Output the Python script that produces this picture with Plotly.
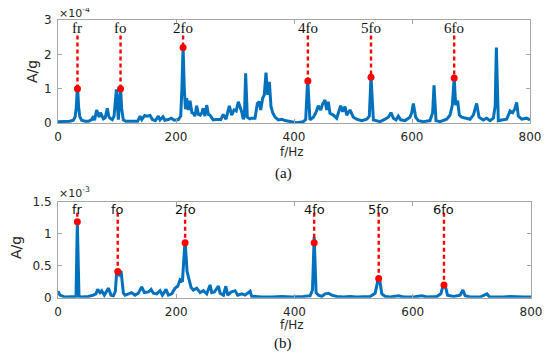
import plotly.graph_objects as go

# ---------------- data ----------------
# Panel (a): amplitude in units of 1e-4
freq_a = [0, 10, 20, 26, 29, 31, 33, 35, 37, 40, 46, 52, 57, 60, 62, 65.5, 68, 70, 72, 74, 77, 80, 83.6, 86, 88,
          92, 95, 99, 101, 102.3, 104, 106, 108, 110.7, 115, 125, 135, 139, 142, 147, 151, 156, 160, 165, 170, 173,
          178, 181, 187, 192, 197, 204, 208, 210, 212, 214, 216, 218, 221, 223.7, 227, 229.4, 232, 235, 238, 241,
          244, 246, 249, 252, 255, 257.6, 263, 268, 271.8, 276, 280, 284.7, 290.4, 294.4, 298.3, 302, 305.6, 309,
          311.3, 314.1, 316, 318, 320.9, 325, 328, 333.9, 337.9, 341.2, 343.5, 346.9, 349.7, 352.5, 355.4, 358.2,
          361, 363.9, 367.8, 373.4, 379.1, 384.7, 393.2, 404.5, 415.8, 419.8, 423.2, 427, 432.8, 437, 441.2, 445.2,
          448.6, 452.5, 455.4, 458.2, 461, 466.7, 472.3, 479.1, 482.5, 486.4, 489.3, 494.9, 500.6, 506.2, 514.7,
          523.2, 527.7, 530.5, 534.5, 540, 545.8, 554.2, 559.9, 564.4, 568.4, 572.9, 576.8, 580.8, 588.1, 596.6,
          599.5, 602.3, 605, 606.2, 610.7, 619.2, 630.5, 635, 637.3, 639, 640.7, 647.5, 658.8, 664.4, 668.4, 671.5,
          674, 677.4, 680.2, 684.2, 689.8, 698.3, 704, 709.6, 713.6, 720.9, 726.6, 732.2, 737.9, 741, 743, 745,
          746.3, 752, 760.5, 766.1, 770.6, 774, 777.4, 780.2, 785.9, 794.4, 800]
amp_a = [0.04, 0.04, 0.05, 0.08, 0.18, 0.45, 1.1, 0.45, 0.18, 0.08, 0.05, 0.05, 0.1, 0.2, 0.08, 0.38, 0.25, 0.17,
         0.3, 0.23, 0.12, 0.15, 0.43, 0.2, 0.14, 0.1, 0.2, 0.98, 0.5, 0.1, 0.6, 1.04, 0.4, 0.09, 0.05, 0.04, 0.05,
         0.2, 0.1, 0.22, 0.2, 0.22, 0.1, 0.07, 0.2, 0.09, 0.18, 0.08, 0.1, 0.14, 0.08, 0.1, 0.2, 1.0, 2.25, 1.0,
         0.4, 0.72, 0.38, 0.65, 0.3, 0.28, 0.2, 0.5, 0.25, 0.23, 0.3, 0.43, 0.2, 0.52, 0.25, 0.23, 0.09, 0.1, 0.11,
         0.1, 0.25, 0.11, 0.5, 0.23, 0.38, 0.35, 0.62, 0.45, 0.33, 0.11, 0.2, 1.45, 0.17, 0.12, 0.14, 0.14, 0.57,
         0.62, 0.38, 0.72, 0.82, 1.47, 0.82, 1.2, 0.48, 0.3, 0.17, 0.09, 0.11, 0.07, 0.04, 0.01, 0.04, 0.1, 1.28,
         0.09, 0.17, 0.3, 0.5, 0.38, 0.55, 0.67, 0.38, 0.62, 0.28, 0.23, 0.14, 0.5, 0.33, 0.48, 0.23, 0.38, 0.17,
         0.11, 0.07, 0.11, 0.2, 1.36, 0.09, 0.07, 0.04, 0.11, 0.17, 0.3, 0.14, 0.09, 0.2, 0.09, 0.07, 0.17, 0.3,
         0.57, 0.25, 0.17, 0.07, 0.04, 0.07, 0.3, 1.1, 0.3, 0.07, 0.04, 0.11, 0.23, 0.52, 1.32, 0.52, 0.65, 0.23,
         0.17, 0.14, 0.11, 0.23, 0.57, 0.17, 0.09, 0.14, 0.07, 0.14, 0.5, 2.2, 0.4, 0.07, 0.09, 0.11, 0.35, 0.3,
         0.4, 0.6, 0.2, 0.11, 0.14, 0.09]

# Panel (b): amplitude in units of 1e-3
freq_b = [0, 3.4, 11.8, 28.8, 30.5, 32.7, 35.5, 40, 51.3, 59.8, 64, 67.1, 71, 73.9, 78.4, 85.2, 89.7, 93.6, 97,
          99.3, 103.2, 106.6, 110.6, 113.4, 119, 124.6, 130.3, 135.9, 141.6, 146.1, 152.9, 157.4, 161.3, 167,
          172.6, 176.6, 182.8, 186.7, 192.4, 198, 202.5, 206.5, 210.4, 214.9, 218.3, 221.7, 225.1, 229, 234.6,
          240.3, 245.9, 251.6, 257.2, 260, 264.6, 271.3, 274.2, 279.8, 283.8, 287.1, 292.8, 299.5, 304, 310.8,
          316.4, 324.9, 327.7, 333.3, 344.6, 361.5, 378.5, 395.4, 403.9, 415.1, 426.4, 430.4, 433.3, 436.5, 440.5,
          446.1, 451.8, 457.4, 463, 471.5, 482.8, 494.1, 505.4, 516.6, 527.9, 536.4, 540.3, 542.4, 544.9, 547.7,
          553.3, 561.8, 575.9, 584.4, 601.3, 615.4, 623.9, 640.8, 647.5, 650.9, 652.8, 655.4, 658.8, 669, 680.2,
          684.8, 688.7, 697.2, 714.1, 725.4, 729.9, 753.6, 764.9, 787.4, 800]
amp_b = [0.1, 0.04, 0.01, 0.01, 0.02, 1.19, 0.02, 0.01, 0.02, 0.04, 0.06, 0.13, 0.08, 0.11, 0.04, 0.15, 0.04, 0.03,
         0.1, 0.41, 0.36, 0.42, 0.07, 0.04, 0.06, 0.08, 0.04, 0.07, 0.17, 0.08, 0.09, 0.13, 0.07, 0.06, 0.11, 0.04,
         0.13, 0.04, 0.06, 0.15, 0.18, 0.28, 0.25, 0.9, 0.41, 0.28, 0.16, 0.12, 0.15, 0.08, 0.11, 0.06, 0.2, 0.08,
         0.09, 0.18, 0.07, 0.04, 0.18, 0.04, 0.09, 0.11, 0.04, 0.06, 0.04, 0.1, 0.02, 0.02, 0.01, 0.01, 0.02, 0.01,
         0.01, 0.02, 0.03, 0.12, 0.95, 0.08, 0.04, 0.02, 0.06, 0.07, 0.04, 0.02, 0.01, 0.02, 0.01, 0.02, 0.02, 0.07,
         0.23, 0.33, 0.23, 0.06, 0.02, 0.01, 0.03, 0.01, 0.01, 0.03, 0.01, 0.02, 0.06, 0.18, 0.24, 0.17, 0.04, 0.02,
         0.04, 0.12, 0.03, 0.01, 0.01, 0.06, 0.01, 0.01, 0.02, 0.01, 0.01]

harm_labels = ["fr", "fo", "2fo", "4fo", "5fo", "6fo"]
harm_f_a = [33, 106, 212, 423.5, 530.5, 671.5]
harm_amp_a = [1.0, 1.0, 2.2, 1.22, 1.33, 1.31]
harm_f_b = [32.7, 101, 215, 433.3, 542.4, 652.8]
harm_amp_b = [1.19, 0.41, 0.86, 0.86, 0.30, 0.20]

x_ticks = [0, 200, 400, 600, 800]
y_ticks_a = [0, 1, 2, 3]
y_ticks_b = [0, 0.5, 1, 1.5]
y_ticktext_b = ["0", "0.5", "1", "1.5"]

# ---------------- figure ----------------
W, H = 550, 356
OFF = 8  # page body margin of the exported html page


def PX(px):
    return (px - OFF) / W


def PY(py):
    return 1 - (py - OFF) / H


BLUE = "#0072BD"
RED = "#FF0000"
TICKFONT = dict(family="DejaVu Sans", size=12, color="#262626")

fig = go.Figure()


def add_panel(freq, amp, hf, ha, top, xa, ya):
    fig.add_trace(go.Scatter(x=freq, y=amp, mode="lines", xaxis=xa, yaxis=ya,
                             line=dict(color=BLUE, width=3), hoverinfo="skip", showlegend=False))
    dx, dy = [], []
    for f, a in zip(hf, ha):
        dx += [f, f, None]
        dy += [top, a, None]
    fig.add_trace(go.Scatter(x=dx, y=dy, mode="lines", xaxis=xa, yaxis=ya,
                             line=dict(color=RED, width=2.4, dash="4px,3px"), showlegend=False))
    fig.add_trace(go.Scatter(x=hf, y=ha, mode="markers", xaxis=xa, yaxis=ya,
                             marker=dict(color=RED, size=7), showlegend=False))


add_panel(freq_a, amp_a, harm_f_a, harm_amp_a, 2.55, "x", "y")
add_panel(freq_b, amp_b, harm_f_b, harm_amp_b, 1.33, "x2", "y2")

axis_common = dict(showgrid=False, zeroline=False, showline=True, linecolor="#a6a6a6", linewidth=1,
                   mirror="ticks", ticks="inside", ticklen=4, tickcolor="#a6a6a6", tickfont=TICKFONT,
                   ticklabelstandoff=3, automargin=False)

fig.update_layout(
    width=W, height=H, margin=dict(l=0, r=0, t=0, b=0, autoexpand=False),
    paper_bgcolor="white", plot_bgcolor="white",
    xaxis=dict(domain=[PX(58), PX(530)], range=[0, 800], tickvals=x_ticks, anchor="y", **axis_common),
    yaxis=dict(domain=[PY(123), PY(20)], range=[0, 3], tickvals=y_ticks_a, anchor="x", **axis_common),
    xaxis2=dict(domain=[PX(58), PX(531)], range=[0, 800], tickvals=x_ticks, anchor="y2", **axis_common),
    yaxis2=dict(domain=[PY(297.7), PY(202)], range=[0, 1.5], tickvals=y_ticks_b,
                ticktext=y_ticktext_b, anchor="x2", **axis_common),
)

ann = []
# harmonic labels
for lab, f in zip(harm_labels, harm_f_a):
    ann.append(dict(x=f, y=2.77, xref="x", yref="y", text=lab, showarrow=False, xanchor="center",
                    yanchor="middle", font=dict(family="Liberation Serif", size=15, color="#111111")))
for lab, f in zip(harm_labels, harm_f_b):
    ann.append(dict(x=f, y=1.39, xref="x2", yref="y2", text=lab, showarrow=False, xanchor="center",
                    yanchor="middle", font=dict(family="DejaVu Sans", size=13, color="#111111")))


def pa(px, py, text, font, angle=0, xanchor="center", yanchor="middle", pad=1):
    ann.append(dict(x=PX(px), y=PY(py), xref="paper", yref="paper", text=text, showarrow=False,
                    xanchor=xanchor, yanchor=yanchor, textangle=angle, font=font, borderpad=pad))


lab_font = dict(family="DejaVu Sans", size=12, color="#262626")
cap_font = dict(family="Liberation Serif", size=15, color="#111111")
pa(292, 152, "f/Hz", lab_font)
pa(292, 325, "f/Hz", lab_font)
pa(32, 72, "A/g", dict(lab_font, size=14), angle=-90)
pa(16, 248, "A/g", dict(lab_font, size=14), angle=-90)
pa(283, 173, "(a)", cap_font)
pa(283, 343, "(b)", cap_font)
exp_font = dict(family="DejaVu Sans", size=11, color="#262626")
pa(58, 13, "×10<sup>-4</sup>", exp_font, xanchor="left", pad=0)
pa(58, 192, "×10<sup>-3</sup>", exp_font, xanchor="left", pad=0)

fig.update_layout(annotations=ann)
fig.write_html("out.html")
